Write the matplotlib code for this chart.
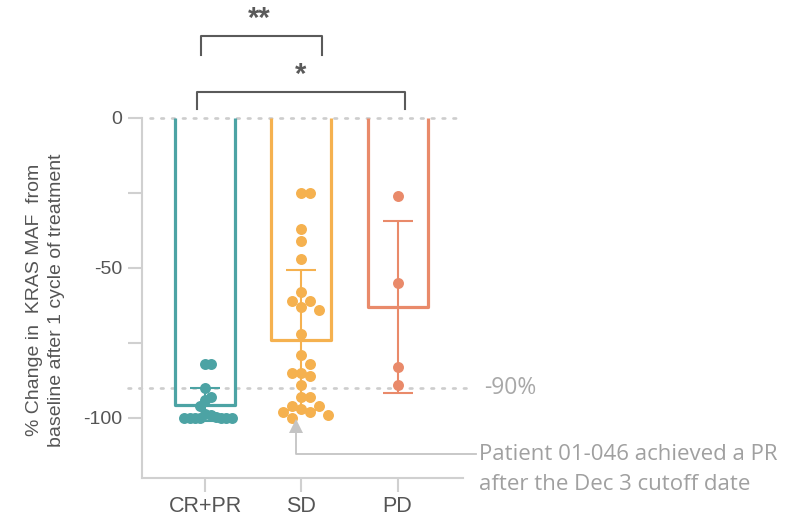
import numpy as np
import matplotlib
matplotlib.use("Agg")
import matplotlib.pyplot as plt

# ---------------- data ----------------
categories = ["CR+PR", "SD", "PD"]
cr_pr = [-82, -82, -90, -93, -94, -96, -98.5, -99, -99.5, -100, -100, -100,
         -100, -100, -100, -100]
sd = [-25, -25, -37, -41, -47, -58, -61, -61, -63, -64, -72, -79, -82, -85,
      -85, -86, -89, -93, -93, -96, -96, -97, -98, -98, -99, -100]
pd_ = [-26, -55, -83, -89]
group_values = [cr_pr, sd, pd_]
bar_means = [-95.5, -74, -63]
bar_sd = [5.5, 23.3, 28.7]
colors = ["#4ca3a4", "#f5b14f", "#e98a6a"]
threshold = -90
yticks_major = [0, -50, -100]
yticks_minor = [-25, -75]

# ---------------- figure ----------------
W, H = 794, 519
fig = plt.figure(figsize=(W / 100, H / 100), dpi=100)
ax_l, ax_r, ax_t, ax_b = 142, 463, 118, 478
ax = fig.add_axes([ax_l / W, 1 - ax_b / H, (ax_r - ax_l) / W, (ax_b - ax_t) / H])
xlim = (-0.661, 2.682)
ylim = (-120, 0)
ax.set_xlim(*xlim)
ax.set_ylim(*ylim)

px_per_x = (ax_r - ax_l) / (xlim[1] - xlim[0])
px_per_y = (ax_b - ax_t) / (ylim[1] - ylim[0])

grey_axis = "#d0d0d0"
text_col = "#555555"
for s in ["top", "right"]:
    ax.spines[s].set_visible(False)
for s in ["left", "bottom"]:
    ax.spines[s].set_color(grey_axis)
    ax.spines[s].set_linewidth(1.5)

x = np.arange(len(categories))
bar_w = 0.625

# bars (white face, open top)
bars = ax.bar(x, bar_means, width=bar_w, color="white", linewidth=0, zorder=2)
for b, c in zip(bars, colors):
    x0, w, h = b.get_x(), b.get_width(), b.get_height()
    ax.plot([x0, x0, x0 + w, x0 + w], [0, h, h, 0], color=c, lw=2.3,
            solid_joinstyle="round", solid_capstyle="butt", zorder=3)

# error bars
for xi, m, e, c in zip(x, bar_means, bar_sd, colors):
    ax.errorbar(xi, m, yerr=e, fmt="none", ecolor=c, elinewidth=1.5,
                capsize=10.8, capthick=1.5, zorder=4)


# scatter layout on a half-step grid, computed in pixel space;
# the horizontal spacing shrinks until the column fits inside the bar
def swarm_once(vals, dx_px, dy_px):
    ys = sorted(vals, reverse=True)
    placed = []
    step = dx_px / 2.0
    slots = [0.0]
    for k in range(1, 40):
        slots += [k * step, -k * step]
    for v in ys:
        yp = v * px_per_y
        chosen = slots[-1]
        for s in slots:
            if all(not (abs(s - xp) < dx_px - 1e-6 and abs(yp - yq) < dy_px - 1e-6)
                   for (xp, yq) in placed):
                chosen = s
                break
        placed.append((chosen, yp))
    return np.array(ys), np.array([p[0] for p in placed])


def swarm(vals, dx_max=10.5, dy_px=12.0, limit_px=27.0):
    dx = dx_max
    while dx > 4:
        ys, offs = swarm_once(vals, dx, dy_px)
        if np.max(np.abs(offs)) <= limit_px:
            break
        dx -= 0.25
    return ys, offs / px_per_x


for xi, vals, c in zip(x, group_values, colors):
    ys, offs = swarm(vals)
    ax.plot(xi + offs, ys, "o", color=c, markersize=7.9, markeredgewidth=0,
            zorder=5, clip_on=False)

# reference lines (dotted)
dot_style = dict(color="#cdcdcd", lw=1.9, linestyle=(0, (1.0, 3.1)),
                 dash_capstyle="round", zorder=2.5, clip_on=False)
ax.plot([-0.58, 2.67], [0, 0], **dot_style)
ax.plot([-0.81, 2.76], [threshold, threshold], **dot_style)

# ticks
ax.set_xticks(x)
ax.set_xticklabels(categories, fontsize=15.5, color=text_col,
                   family="Liberation Sans")
ax.set_yticks(yticks_major)
ax.set_yticklabels([str(v) for v in yticks_major], fontsize=14,
                   color=text_col, family="Liberation Sans")
ax.set_yticks(yticks_minor, minor=True)
ax.tick_params(axis="both", which="both", length=10, width=1.5,
               color=grey_axis, direction="out")
ax.tick_params(axis="y", which="major", pad=4)
ax.tick_params(axis="x", which="major", pad=3)

# y label
fig.text(45.5 / W, 1 - 300 / H,
         "% Change in  KRAS MAF  from\nbaseline after 1 cycle of treatment",
         rotation=90, ha="center", va="center", multialignment="center",
         fontsize=14, color=text_col, family="Liberation Sans", linespacing=1.35)

# significance brackets
br_col = "#5a5a5a"
ax.plot([-0.05, -0.05, 1.21, 1.21], [21, 27.4, 27.4, 21], color=br_col, lw=1.5,
        clip_on=False)
ax.text(0.56, 33.0, "**", ha="center", va="center", fontsize=21, color=br_col,
        family="Liberation Sans", fontweight="bold")
ax.plot([-0.09, -0.09, 2.08, 2.08], [3, 8.8, 8.8, 3], color=br_col, lw=1.5,
        clip_on=False)
ax.text(0.995, 14.2, "*", ha="center", va="center", fontsize=21, color=br_col,
        family="Liberation Sans", fontweight="bold")

# -90% label
ann_font = "Open Sans"
ax.text(2.90, threshold, "-90%", ha="left", va="center", fontsize=16.5,
        color="#a8a8a8", family=ann_font, clip_on=False)

# annotation arrow
ann_col = "#c4c4c4"
ax.plot([0.943, 0.943, 2.82], [-104.5, -112, -112], color=ann_col, lw=1.3,
        clip_on=False, zorder=6)
ax.plot([0.943], [-102.6], marker="^", color=ann_col, markersize=10.5,
        markeredgewidth=0, clip_on=False, zorder=6)
ax.text(2.85, -112.3, "Patient 01-046 achieved a PR", ha="left", va="center",
        fontsize=16, color="#a0a0a0", family=ann_font, clip_on=False)
ax.text(2.85, -122.0, "after the Dec 3 cutoff date", ha="left", va="center",
        fontsize=16, color="#a0a0a0", family=ann_font, clip_on=False)

fig.savefig("out.png", dpi=100)
